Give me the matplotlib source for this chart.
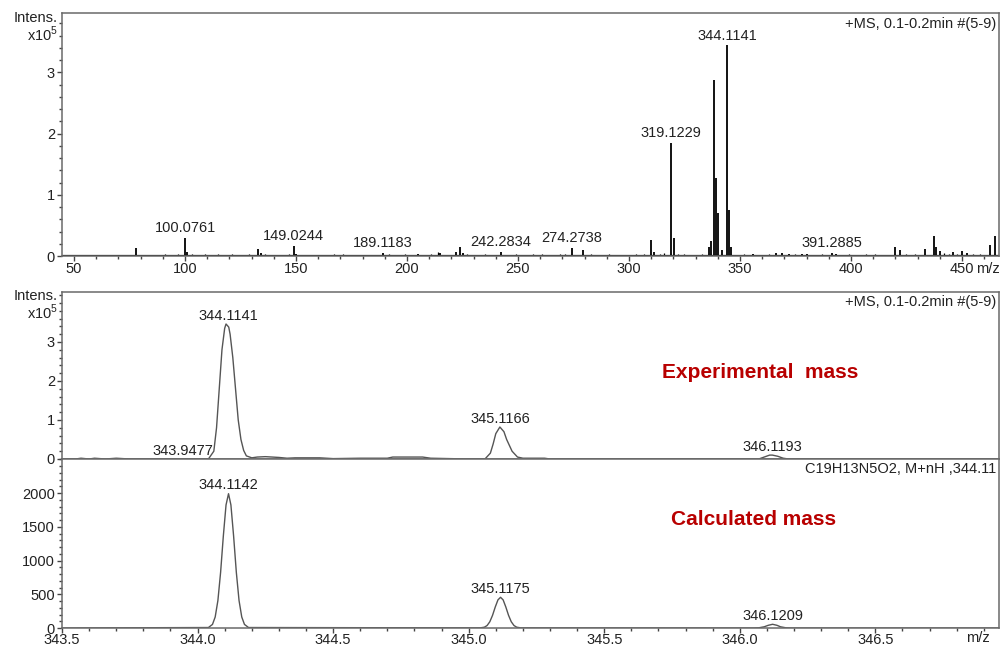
import numpy as np
import matplotlib
matplotlib.use('Agg')
import matplotlib.pyplot as plt
from matplotlib.ticker import MultipleLocator, FixedLocator, FormatStrFormatter

plt.rcParams['font.family'] = ['Liberation Sans', 'DejaVu Sans']
plt.rcParams['mathtext.fontset'] = 'custom'
plt.rcParams['mathtext.rm'] = 'Liberation Sans'

# ---- full scan (intensity x10^5) ----
scan_mz = [78.05, 100.0761, 101.1, 133.1, 134.1, 149.0244, 150.0, 189.1183, 205.1, 215.1,
           222.1, 224.1, 225.1, 242.2834, 274.2738, 279.1, 310.1, 311.1, 319.1229, 320.1,
           336.1, 337.1, 338.1, 339.1, 340.1, 342.1, 344.1141, 345.1166, 346.12, 356.1,
           366.1, 369.1, 372.1, 378.1, 380.1, 391.2885, 393.1, 419.8, 422.1, 433.3,
           437.4, 438.4, 440.1, 446.1, 450.1, 452.1, 462.6, 464.9]
scan_int = [0.13, 0.30, 0.06, 0.11, 0.05, 0.16, 0.04, 0.05, 0.04, 0.05,
            0.07, 0.15, 0.05, 0.07, 0.13, 0.10, 0.26, 0.06, 1.85, 0.30,
            0.15, 0.25, 2.87, 1.28, 0.70, 0.10, 3.44, 0.75, 0.15, 0.04,
            0.05, 0.05, 0.04, 0.04, 0.04, 0.05, 0.04, 0.15, 0.09, 0.12,
            0.33, 0.15, 0.08, 0.07, 0.08, 0.05, 0.18, 0.32]
noise_mz = [58, 62, 67, 71, 75, 80, 84, 88, 91, 95, 97, 103, 105, 109, 112, 115, 118, 121,
            125, 129, 136, 139, 143, 147, 152, 155, 159, 163, 167, 171, 175, 178, 182, 186,
            192, 195, 199, 203, 208, 211, 214, 218, 227, 231, 235, 239, 245, 249, 253, 257,
            261, 265, 269, 271, 283, 287, 291, 295, 299, 303, 307, 314, 316, 322, 325, 329,
            333, 349, 352, 359, 363, 375, 383, 387, 395, 399, 403, 407, 411, 415, 425, 429,
            442, 444, 448, 455, 458]
noise_int = [0.01, 0.02, 0.01, 0.02, 0.01, 0.02, 0.01, 0.02, 0.03, 0.02, 0.03, 0.03, 0.02,
             0.03, 0.02, 0.03, 0.02, 0.03, 0.02, 0.03, 0.03, 0.02, 0.02, 0.03, 0.02, 0.02,
             0.01, 0.02, 0.03, 0.03, 0.02, 0.02, 0.02, 0.02, 0.03, 0.02, 0.03, 0.02, 0.02,
             0.03, 0.06, 0.02, 0.03, 0.02, 0.04, 0.02, 0.02, 0.03, 0.02, 0.03, 0.03, 0.02,
             0.03, 0.04, 0.03, 0.02, 0.03, 0.02, 0.02, 0.03, 0.04, 0.03, 0.05, 0.04, 0.03,
             0.02, 0.03, 0.02, 0.03, 0.02, 0.03, 0.03, 0.02, 0.03, 0.02, 0.03, 0.02, 0.03,
             0.03, 0.02, 0.04, 0.03, 0.05, 0.04, 0.03, 0.04, 0.03]
scan_labels = ['100.0761', '149.0244', '189.1183', '242.2834', '274.2738',
               '319.1229', '344.1141', '391.2885']

# ---- experimental isotope profile (x10^5) ----
exp_mz = [343.50, 343.55, 343.57, 343.60, 343.62, 343.66, 343.70, 343.75, 343.90, 344.04,
          344.06, 344.07, 344.08, 344.09, 344.10, 344.105, 344.115, 344.12, 344.13, 344.14,
          344.15, 344.16, 344.17, 344.18, 344.20, 344.22, 344.25, 344.30, 344.33, 344.36,
          344.45, 344.50, 344.60, 344.70, 344.72, 344.83, 344.86, 345.00, 345.06, 345.08,
          345.09, 345.10, 345.115, 345.13, 345.14, 345.16, 345.18, 345.20, 345.28, 345.30,
          345.60, 346.05, 346.07, 346.09, 346.11, 346.12, 346.14, 346.16, 346.18, 346.30,
          346.96]
exp_int = [0.0, 0.0, 0.02, 0.0, 0.02, 0.0, 0.02, 0.0, 0.0, 0.0,
           0.2, 0.8, 1.8, 2.8, 3.35, 3.46, 3.38, 3.2, 2.6, 1.8,
           1.0, 0.5, 0.22, 0.08, 0.03, 0.05, 0.06, 0.04, 0.02, 0.03,
           0.03, 0.01, 0.02, 0.02, 0.05, 0.05, 0.02, 0.0, 0.0, 0.15,
           0.38, 0.65, 0.82, 0.7, 0.5, 0.2, 0.05, 0.02, 0.02, 0.0,
           0.0, 0.0, 0.0, 0.05, 0.1, 0.1, 0.07, 0.02, 0.0, 0.0,
           0.0]
exp_peaks = [343.9477, 344.1141, 345.1166, 346.1193]
exp_heights = [0.0, 3.46, 0.82, 0.1]

# ---- calculated isotope pattern ----
calc_mz = [343.50, 344.040, 344.055, 344.065, 344.075, 344.085, 344.095, 344.105, 344.1142,
           344.123, 344.133, 344.143, 344.153, 344.163, 344.173, 344.188,
           345.043, 345.058, 345.068, 345.078, 345.088, 345.098, 345.108, 345.1175,
           345.127, 345.137, 345.147, 345.157, 345.167, 345.177, 345.192,
           346.050, 346.070, 346.090, 346.105, 346.1209, 346.137, 346.150, 346.170, 346.190,
           346.96]
calc_int = [0, 7, 53, 163, 407, 825, 1360, 1823, 1990,
            1823, 1360, 825, 407, 163, 53, 7,
            2, 12, 37, 93, 188, 311, 417, 455,
            417, 311, 188, 93, 37, 12, 2,
            0, 3, 18, 40, 55, 40, 18, 3, 0,
            0]
calc_peaks = [344.1142, 345.1175, 346.1209]
calc_heights = [1990, 455, 55]

fig = plt.figure(figsize=(10.02, 6.49), dpi=100)
W, H = 1002.0, 649.0
L, R = 62 / W, 999 / W

def box(top, bottom):
    return [L, 1 - bottom / H, R - L, (bottom - top) / H]

ax1 = fig.add_axes(box(13, 256))
ax2 = fig.add_axes(box(292, 459))
ax3 = fig.add_axes(box(459, 628))

frame = '#6a6a6a'
txt = '#222222'
for ax in (ax1, ax2, ax3):
    for s in ax.spines.values():
        s.set_color(frame)
        s.set_linewidth(1.1)
    ax.tick_params(which='both', direction='out', color='#444444', labelcolor=txt,
                   labelsize=10.5, width=1)
    ax.tick_params(which='major', length=3.6, pad=1.5)
    ax.tick_params(which='minor', length=2.2)

# top: full scan
ax1.axhline(0, color='black', lw=1.6)
ax1.vlines(noise_mz, 0, noise_int, color='black', lw=0.9)
ax1.vlines(scan_mz, 0, scan_int, color='black', lw=1.3)
ax1.set_xlim(44.6, 466.7)
ax1.set_ylim(0, 3.97)
ax1.xaxis.set_major_locator(MultipleLocator(50))
ax1.xaxis.set_minor_locator(MultipleLocator(10))
ax1.yaxis.set_major_locator(FixedLocator([0, 1, 2, 3]))
ax1.yaxis.set_minor_locator(MultipleLocator(0.2))
ax1.tick_params(axis='x', which='major', pad=0.5)
for lab in scan_labels:
    m = float(lab)
    h = scan_int[int(np.argmin(np.abs(np.array(scan_mz) - m)))]
    ax1.annotate(lab, (m, h), xytext=(0, 2), textcoords='offset points',
                 ha='center', va='bottom', fontsize=10.5, color=txt)
ax1.text(0.997, 0.985, '+MS, 0.1-0.2min #(5-9)', transform=ax1.transAxes,
         ha='right', va='top', fontsize=10.5, color=txt)

# middle: experimental
ax2.plot(exp_mz, exp_int, color='#555555', lw=1.0)
ax2.axhline(0, color='#444444', lw=1.0)
ax2.set_xlim(343.5, 346.956)
ax2.set_ylim(0, 4.28)
ax2.yaxis.set_major_locator(FixedLocator([0, 1, 2, 3]))
ax2.yaxis.set_minor_locator(MultipleLocator(0.2))
ax2.tick_params(axis='x', which='both', bottom=False, labelbottom=False)
for m, h in zip(exp_peaks, exp_heights):
    ax2.annotate('%.4f' % m, (m, h), xytext=(0, 1), textcoords='offset points',
                 ha='center', va='bottom', fontsize=10.5, color=txt)
ax2.text(0.997, 0.985, '+MS, 0.1-0.2min #(5-9)', transform=ax2.transAxes,
         ha='right', va='top', fontsize=10.5, color=txt)
ax2.text(0.745, 0.52, 'Experimental  mass', transform=ax2.transAxes, ha='center',
         va='center', fontsize=15, fontweight='bold', color='#b80000')

# bottom: calculated
ax3.plot(calc_mz, calc_int, color='#555555', lw=1.0)
ax3.set_xlim(343.5, 346.956)
ax3.set_ylim(0, 2504)
ax3.xaxis.set_major_locator(MultipleLocator(0.5))
ax3.xaxis.set_minor_locator(MultipleLocator(0.1))
ax3.xaxis.set_major_formatter(FormatStrFormatter('%.1f'))
ax3.yaxis.set_major_locator(FixedLocator([0, 500, 1000, 1500, 2000]))
ax3.yaxis.set_minor_locator(MultipleLocator(100))
ax3.tick_params(axis='x', which='major', pad=0)
for m, h in zip(calc_peaks, calc_heights):
    ax3.annotate('%.4f' % m, (m, h), xytext=(0, 1), textcoords='offset points',
                 ha='center', va='bottom', fontsize=10.5, color=txt)
ax3.text(0.997, 0.985, 'C19H13N5O2, M+nH ,344.11', transform=ax3.transAxes,
         ha='right', va='top', fontsize=10.5, color=txt)
ax3.text(0.738, 0.64, 'Calculated mass', transform=ax3.transAxes, ha='center',
         va='center', fontsize=15, fontweight='bold', color='#b80000')

# axis captions
for y0 in (18, 296):
    fig.text(58 / W, 1 - y0 / H, 'Intens.', ha='right', va='center', fontsize=10.5, color=txt)
    fig.text(58 / W, 1 - (y0 + 16) / H, r'x10$^5$', ha='right', va='center',
             fontsize=10.5, color=txt)
fig.text(988 / W, 1 - 269 / H, 'm/z', ha='center', va='center', fontsize=10.5, color=txt)
fig.text(978 / W, 1 - 638 / H, 'm/z', ha='center', va='center', fontsize=10.5, color=txt)

fig.savefig('out.png', dpi=100, facecolor='white')
